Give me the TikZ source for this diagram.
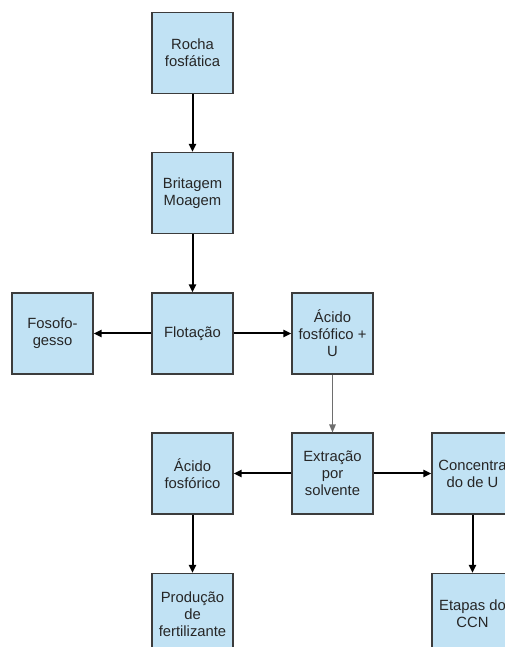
\documentclass[tikz,border=0pt]{standalone}
\usepackage{fontspec}
\setmainfont{Liberation Sans}
\usetikzlibrary{arrows.meta}
\definecolor{boxfill}{RGB}{193,226,244}
\definecolor{boxline}{RGB}{60,60,60}
\definecolor{softline}{RGB}{110,110,110}
\begin{document}
\begin{tikzpicture}[x=1pt,y=1pt,
  stepbox/.style={draw=boxline,line width=1.1pt,fill=boxfill,minimum width=81pt,minimum height=81pt,
    inner sep=2pt,align=center,font=\fontsize{14.8}{17}\selectfont,text=black!85},
  flow/.style={line width=2pt,-{Triangle[length=8pt,width=7pt]}},
  thinflow/.style={draw=softline,line width=1.2pt,-{Triangle[length=8pt,width=6.5pt,fill=softline]}}]
\useasboundingbox (0,0) rectangle (504,647);
% columns: 52.5, 192.5, 332.5, 472.5 ; rows measured from the top
\node[stepbox] (rocha) at (192.5,594) {Rocha\\fosfática};
\node[stepbox] (brit) at (192.5,454) {Britagem\\Moagem};
\node[stepbox] (flot) at (192.5,313.5) {Flotação};
\node[stepbox] (fosf) at (52.5,313.5) {Fosofo-\\gesso};
\node[stepbox] (acu) at (332.5,313.5) {Ácido\\fosfófico +\\U};
\node[stepbox] (extr) at (332.5,173.5) {Extração\\por\\solvente};
\node[stepbox] (acf) at (192.5,173.5) {Ácido\\fosfórico};
\node[stepbox] (conc) at (472.5,173.5) {Concentra\\do de U};
\node[stepbox] (prod) at (192.5,33) {Produção\\de\\fertilizante};
\node[stepbox] (etap) at (472.5,33) {Etapas do\\CCN};
\draw[flow] (rocha) -- (brit);
\draw[flow] (brit) -- (flot);
\draw[flow] (flot) -- (fosf);
\draw[flow] (flot) -- (acu);
\draw[thinflow] (acu) -- (extr);
\draw[flow] (extr) -- (acf);
\draw[flow] (extr) -- (conc);
\draw[flow] (acf) -- (prod);
\draw[flow] (conc) -- (etap);
\end{tikzpicture}
\end{document}
